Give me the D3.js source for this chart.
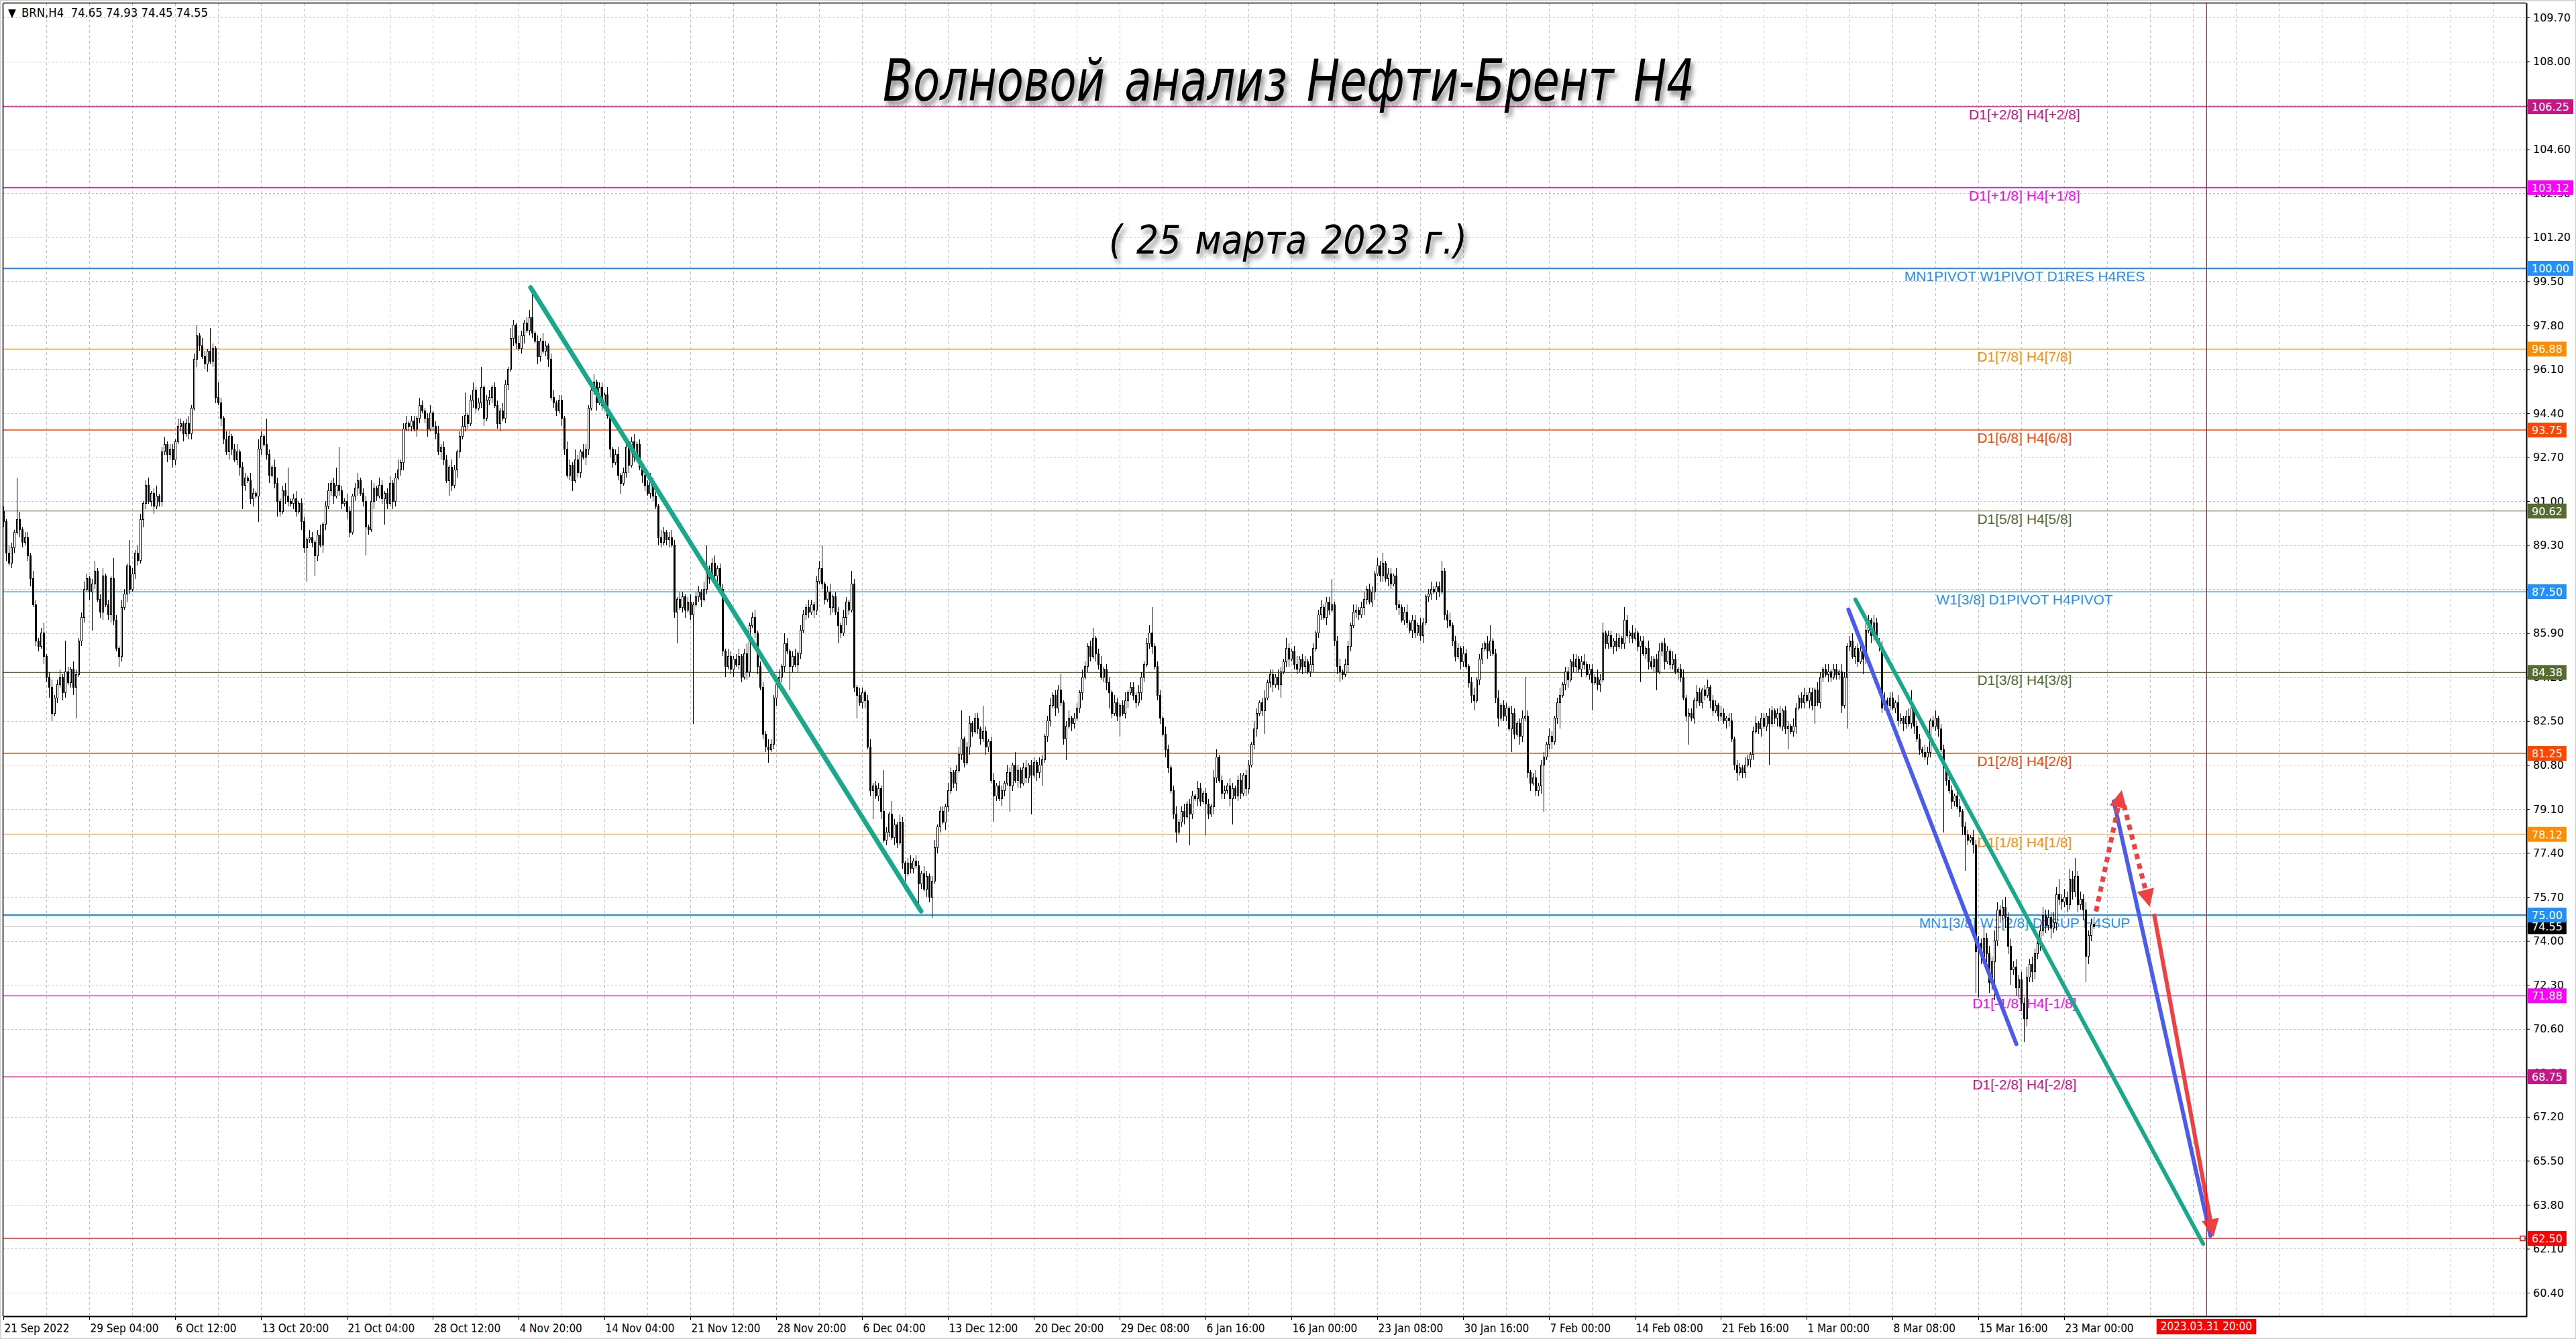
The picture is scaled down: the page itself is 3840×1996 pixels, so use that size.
<!DOCTYPE html>
<html>
<head>
<meta charset="utf-8">
<script src="https://cdn.jsdelivr.net/npm/d3@7"></script>
<style>
  html, body { margin: 0; padding: 0; background: #fff; }
  svg { display: block; }
</style>
</head>
<body>
<div id="chart"></div>
<script>
// ---- data ----
const symbol = "BRN,H4";
const lastOHLC = ["74.65", "74.93", "74.45", "74.55"];
const titleText = "Волновой анализ Нефти-Брент H4";
const subtitleText = "( 25 марта 2023 г.)";

// H4 closes, one per bar (bar 0 = 21 Sep 2022)
const firstOpen = 90.6;
const closes = [
  90.2,89.0,88.6,89.2,89.8,90.3,89.9,89.4,89.6,88.9,88.0,87.0,85.6,85.4,85.9,85.0,84.2,83.8,82.8,83.4,
  83.9,84.2,83.6,84.4,84.0,84.5,83.8,84.3,85.6,86.5,87.6,88.0,87.5,87.8,88.3,87.2,86.7,88.1,87.0,86.6,
  88.0,86.4,85.3,85.0,86.9,87.4,88.5,87.6,88.2,89.0,88.7,90.3,90.9,91.6,91.0,91.3,90.8,91.2,91.0,92.9,
  93.2,92.8,93.0,92.6,93.3,93.9,94.0,93.6,94.0,93.6,94.6,96.5,97.4,97.0,96.6,96.3,96.8,96.4,96.9,95.0,
  94.8,94.2,93.4,92.9,93.5,93.0,92.6,92.9,92.3,91.6,91.9,91.8,91.1,91.3,91.2,93.0,93.5,93.2,92.8,92.0,
  92.3,91.7,91.0,90.6,91.4,91.2,91.0,90.9,91.1,90.6,90.9,90.2,89.2,89.5,89.6,89.4,88.9,89.7,89.3,90.1,
  90.8,91.4,91.7,91.2,91.6,91.4,90.9,91.0,90.6,89.8,91.2,91.5,91.8,91.3,91.0,90.0,89.9,91.0,91.5,91.2,
  91.6,91.1,91.3,90.9,91.7,91.0,91.9,92.2,92.5,93.8,94.0,93.9,94.1,93.8,94.2,94.7,94.5,94.2,93.8,94.4,
  93.9,93.6,92.9,93.1,92.6,91.8,92.3,91.6,92.2,92.9,93.5,93.9,94.3,94.0,94.9,95.3,94.6,94.8,95.4,94.2,
  94.9,95.0,95.4,94.7,94.0,94.5,94.2,95.5,96.1,97.3,97.8,97.1,96.9,97.4,97.9,97.6,98.1,97.5,97.2,96.6,
  97.2,96.8,97.0,96.5,95.0,94.8,94.5,94.9,94.2,93.0,92.0,92.4,91.8,92.6,92.1,92.9,92.7,93.0,94.6,95.3,
  95.6,94.8,95.4,94.7,95.1,94.3,93.0,92.5,92.8,92.0,91.7,92.1,93.1,92.4,93.3,92.7,93.2,92.3,92.0,91.6,
  91.3,91.8,91.2,90.8,89.6,89.4,89.8,89.5,89.6,89.3,86.7,87.2,86.9,87.3,86.8,87.1,86.6,87.0,87.3,87.5,
  87.2,87.6,88.4,88.0,88.6,88.1,88.4,87.6,85.2,84.6,85.0,84.5,84.9,84.7,85.0,84.2,85.1,84.4,86.2,86.5,
  85.9,84.6,83.8,82.0,81.5,81.4,81.6,83.4,83.9,84.2,84.6,85.5,85.2,84.6,85.0,84.7,85.1,86.0,86.6,86.9,
  86.7,87.0,86.8,87.9,88.4,87.8,87.2,87.5,86.9,87.3,86.7,86.2,85.9,86.5,87.1,86.8,87.8,83.8,83.5,83.2,
  83.6,83.3,81.5,79.8,80.0,79.6,79.9,79.0,77.9,78.2,78.9,78.0,78.5,77.8,78.6,77.0,76.6,77.0,76.8,77.1,
  76.9,76.2,76.6,76.0,76.5,75.7,76.3,77.6,78.4,79.0,78.6,79.2,79.8,80.5,80.1,80.6,81.2,81.8,80.9,81.5,
  82.4,82.1,82.6,82.2,81.8,82.1,81.5,81.7,80.2,79.6,80.0,79.5,79.8,80.1,80.5,80.0,80.8,80.2,80.6,80.1,
  80.7,80.3,80.8,80.4,80.9,80.5,80.8,81.0,81.9,82.5,83.1,83.5,83.0,83.7,83.2,81.8,82.3,82.6,82.4,82.6,
  83.0,83.6,84.2,84.6,85.4,85.0,85.7,85.1,84.7,84.2,84.5,84.0,83.6,82.8,83.2,82.7,83.1,82.8,83.3,83.6,
  83.8,83.5,83.2,83.6,84.2,84.7,85.5,85.9,85.4,84.6,83.5,82.6,82.0,81.4,80.7,79.8,78.9,78.2,78.6,79.0,
  78.8,79.3,78.9,79.6,79.5,79.9,79.4,79.7,79.3,78.9,79.2,80.3,81.1,80.2,79.7,79.8,80.0,79.5,79.9,79.6,
  80.2,79.7,80.4,79.9,80.8,81.6,82.2,82.8,83.2,82.9,83.4,84.0,84.3,83.9,84.2,83.9,84.4,84.8,85.3,84.9,
  85.2,84.7,84.5,84.9,84.6,84.8,84.4,84.7,85.3,85.9,86.6,86.9,86.5,87.1,86.8,87.0,85.6,84.6,84.4,84.3,
  84.7,85.4,86.2,86.7,86.8,86.6,86.9,87.2,87.6,87.1,87.5,88.2,88.5,88.1,88.6,88.0,88.2,87.8,88.1,87.0,
  86.9,86.4,86.7,86.3,86.0,86.4,85.9,86.2,85.8,86.3,87.3,87.4,87.6,87.5,87.7,87.5,88.3,86.6,86.4,86.2,
  85.6,85.0,85.3,84.8,85.1,84.6,84.0,83.5,83.3,84.1,84.9,85.3,85.5,85.2,85.6,85.1,83.4,82.6,83.1,82.7,
  83.0,82.2,82.8,82.0,82.4,81.9,82.6,82.7,80.5,80.1,80.3,79.8,80.0,80.8,81.1,81.6,81.9,81.7,82.6,83.2,
  83.5,83.9,84.4,84.1,84.8,84.6,84.9,84.5,84.8,84.7,84.3,84.5,84.0,84.2,83.9,84.1,85.9,85.5,85.8,85.4,
  85.6,85.4,85.7,85.5,86.4,85.8,85.9,85.7,85.9,85.4,85.6,85.1,85.3,84.8,84.6,84.9,84.4,85.2,85.5,84.8,
  85.2,84.7,84.9,84.4,84.5,84.2,83.4,82.7,82.8,82.6,83.3,83.6,83.2,83.7,83.5,83.8,83.3,82.9,83.1,82.7,
  82.8,82.5,82.6,82.5,81.8,80.8,80.5,80.7,80.5,80.8,81.0,81.2,82.1,82.4,82.2,82.6,82.3,82.7,82.4,82.9,
  82.6,82.8,82.3,82.9,82.2,82.3,82.1,82.3,83.0,83.4,83.2,83.5,83.3,83.6,83.1,83.7,83.2,84.2,84.5,84.3,
  84.4,84.2,84.5,84.3,84.4,83.1,84.2,85.4,85.6,85.0,85.3,84.8,85.2,84.9,86.0,86.4,85.8,86.3,85.6,85.4,
  83.0,83.3,83.1,83.4,83.0,83.2,82.5,82.6,82.4,82.7,82.4,83.0,82.3,81.8,81.4,81.3,81.1,81.3,82.5,82.3,
  82.6,82.2,81.4,80.7,80.2,79.8,79.4,79.6,79.2,79.0,78.4,78.1,77.9,78.0,77.7,73.6,73.9,73.4,74.1,73.5,
  72.4,73.2,74.0,75.2,75.0,75.3,74.9,73.8,72.9,73.0,72.2,72.5,71.6,71.0,72.6,73.1,72.8,73.5,73.9,74.4,
  75.0,74.6,74.9,74.5,74.7,75.8,75.6,75.5,75.7,75.4,76.4,75.9,76.5,75.4,75.6,75.2,73.4,74.2,74.65,74.55
];
// wick lengths above the body / below the body, in tenths of a dollar
const wickUp = [
  2,1,3,2,1,16,3,1,2,2,1,3,2,1,2,4,1,2,3,1,
  2,3,1,12,2,1,3,2,1,2,3,2,1,2,4,1,2,3,1,2,
  1,8,2,1,3,2,1,10,2,1,3,2,1,2,3,1,2,4,1,2,
  3,1,2,2,1,3,2,1,2,3,1,2,4,1,3,2,1,9,2,1,
  6,2,1,3,2,1,2,3,1,2,2,1,3,2,1,4,2,1,10,2,
  1,3,2,1,2,3,11,1,2,3,1,2,2,1,3,2,1,2,4,1,
  2,3,1,2,7,15,2,1,3,2,1,2,3,1,2,2,1,8,2,1,
  3,2,1,2,3,1,2,4,1,2,3,1,2,2,1,3,2,1,2,3,
  1,2,3,1,2,2,1,3,2,1,2,4,9,1,2,3,1,2,8,1,
  2,3,1,2,2,1,3,2,1,4,2,1,3,2,1,2,3,9,1,2,
  1,3,2,1,2,3,1,2,2,1,3,2,1,4,2,1,3,2,1,2,
  3,1,2,2,1,3,2,1,2,3,1,2,4,1,2,3,1,2,2,1,
  2,3,1,2,1,3,2,1,2,3,2,1,3,2,1,2,3,1,2,2,
  1,3,9,1,2,3,1,2,2,1,3,2,1,2,3,1,2,4,1,2,
  3,1,2,2,1,3,2,1,2,3,1,4,2,1,2,3,1,2,2,1,
  3,2,1,2,3,9,1,2,3,1,2,2,1,3,2,1,5,2,1,3,
  2,1,2,3,1,2,2,1,16,2,1,5,2,1,3,2,1,2,3,1,
  2,2,1,3,2,1,2,3,1,2,2,1,3,2,1,2,3,11,1,2,
  3,1,2,2,1,10,2,1,2,3,1,2,2,1,3,2,1,5,2,1,
  2,3,1,2,2,1,3,2,1,2,3,1,2,2,6,1,2,3,1,2,
  2,1,3,2,1,2,4,1,2,3,1,2,2,1,3,2,1,2,3,1,
  2,2,1,3,2,1,2,3,10,1,2,2,1,3,2,1,2,3,1,2,
  3,1,2,2,1,3,2,1,2,2,1,3,3,1,2,2,1,3,2,1,
  2,3,1,2,2,1,3,2,1,2,3,1,2,2,1,3,2,1,4,2,
  1,2,3,1,2,2,1,3,2,1,2,3,1,2,2,10,1,2,3,1,
  2,2,1,3,2,1,2,3,1,2,2,1,3,2,4,1,2,2,1,3,
  2,1,2,3,1,2,2,1,3,2,1,2,3,1,2,2,4,1,2,3,
  1,2,2,1,3,2,1,2,3,1,2,2,1,3,6,1,2,3,1,2,
  2,1,3,2,1,2,3,15,2,1,2,3,1,2,2,1,3,2,1,2,
  3,1,2,2,1,3,2,1,2,3,1,2,2,1,3,2,4,1,2,2,
  1,3,2,1,5,2,1,3,2,1,2,2,1,3,2,1,2,3,1,2,
  2,1,3,2,1,2,3,1,2,2,1,3,2,1,2,3,1,2,2,1,
  3,2,1,2,3,1,2,2,1,3,2,1,2,3,1,2,2,1,3,2,
  1,2,3,1,2,2,1,3,2,1,2,3,1,2,2,1,3,2,1,2,
  3,1,2,2,1,3,2,1,2,3,1,2,2,1,3,2,1,3,2,1,
  2,3,1,2,2,1,3,2,1,2,3,7,1,2,2,1,3,2,1,2,
  3,1,2,2,1,3,2,1,2,3,1,2,2,1,3,2,3,2,4,2,
  3,2,4,3,2,3,4,2,3,2,3,2,3,2,4,2,3,2,3,2,
  3,2,3,2,4,3,6,2,3,2,4,3,7,2,3,2,3,2,2,3
];
const wickDn = [
  2,3,1,2,2,1,3,2,1,2,3,1,2,2,1,3,2,4,3,1,
  2,1,3,2,1,2,3,12,1,2,2,1,3,15,2,1,2,3,1,2,
  3,2,1,4,2,1,3,2,1,2,2,1,3,2,1,2,3,1,2,2,
  1,3,2,3,2,1,2,3,1,2,2,1,3,2,1,2,3,1,2,2,
  1,3,2,1,3,2,1,2,3,9,2,1,2,3,1,10,2,1,2,3,
  1,2,6,2,1,3,2,1,2,2,1,3,2,13,1,2,8,2,1,3,
  2,1,2,3,1,2,2,1,3,2,1,2,3,1,2,11,2,1,3,2,
  1,2,10,2,1,3,2,1,2,3,1,2,2,1,3,2,1,2,3,1,
  2,2,1,3,2,1,6,2,1,3,2,1,2,2,1,3,2,1,2,3,
  1,2,2,1,2,3,1,2,2,1,3,2,1,2,3,1,2,2,1,3,
  2,1,2,3,1,2,2,1,3,2,1,2,4,1,2,2,1,3,2,1,
  2,3,1,2,2,1,3,2,1,2,4,1,2,3,1,2,2,1,3,2,
  1,2,2,1,3,2,1,2,3,1,2,12,1,2,3,1,2,42,1,2,
  3,1,2,2,1,3,2,1,2,4,1,2,3,1,2,2,1,3,2,1,
  2,3,1,2,2,5,1,2,3,1,2,2,1,9,2,1,3,2,1,2,
  2,1,3,2,1,2,2,1,3,2,1,7,2,1,3,2,1,2,9,1,
  2,3,1,2,11,1,2,3,1,2,2,1,3,2,1,2,3,1,2,2,
  1,8,2,1,3,2,8,1,2,2,1,3,2,1,2,3,1,2,2,1,
  3,2,1,2,2,1,3,2,1,10,2,1,3,2,1,10,2,1,3,2,
  1,2,2,15,1,3,2,8,1,2,2,1,3,2,1,2,8,1,3,2,
  1,2,3,1,2,2,1,3,2,1,2,3,6,2,1,2,8,1,2,3,
  1,2,2,1,3,2,1,2,3,1,2,2,1,3,2,1,2,4,1,2,
  3,1,12,2,1,3,2,1,12,2,1,3,2,1,2,2,1,3,10,1,
  2,2,1,3,2,1,2,3,1,2,9,1,2,3,1,2,5,1,2,3,
  1,2,2,1,3,2,1,2,3,1,2,2,1,3,2,1,2,3,4,2,
  1,3,2,1,2,2,1,3,2,1,2,3,1,2,2,1,3,2,1,2,
  3,1,2,2,1,3,2,1,2,3,1,2,2,1,3,2,1,2,3,1,
  2,2,1,3,2,1,2,3,4,1,2,2,1,3,2,1,2,3,1,2,
  2,1,9,2,1,3,2,1,2,3,1,2,2,3,18,1,2,3,1,2,
  10,1,2,3,1,2,2,1,3,2,1,2,11,1,2,3,1,2,2,1,
  3,2,1,2,2,1,3,2,1,2,14,1,2,3,1,2,7,1,2,3,
  1,2,2,1,3,2,1,2,11,1,2,3,1,2,2,1,3,2,1,2,
  2,1,3,2,1,2,3,1,2,2,1,3,2,1,2,3,1,2,16,1,
  2,3,1,2,2,8,1,2,3,1,2,2,1,3,2,7,1,2,2,1,
  3,2,1,2,2,3,1,20,2,1,3,2,1,6,2,1,3,2,1,2,
  2,1,3,2,1,2,2,1,3,2,1,2,3,1,2,2,1,3,2,1,
  2,3,1,25,2,1,3,2,1,2,3,14,2,1,3,16,18,3,2,4,
  4,3,15,2,3,2,4,3,6,2,3,4,3,9,3,2,4,3,2,3,
  2,3,2,4,2,3,2,3,2,3,2,3,2,3,2,4,10,3,2,1
];

// time axis labels, one every 32 bars
const timeLabels = ["21 Sep 2022","29 Sep 04:00","6 Oct 12:00","13 Oct 20:00","21 Oct 04:00",
  "28 Oct 12:00","4 Nov 20:00","14 Nov 04:00","21 Nov 12:00","28 Nov 20:00","6 Dec 04:00",
  "13 Dec 12:00","20 Dec 20:00","29 Dec 08:00","6 Jan 16:00","16 Jan 00:00","23 Jan 08:00",
  "30 Jan 16:00","7 Feb 00:00","14 Feb 08:00","21 Feb 16:00","1 Mar 00:00","8 Mar 08:00",
  "15 Mar 16:00","23 Mar 00:00"];
const priceTicks = [60.40,62.10,63.80,65.50,67.20,68.90,70.60,72.30,74.00,75.70,77.40,79.10,80.80,
  82.50,84.20,85.90,87.60,89.30,91.00,92.70,94.40,96.10,97.80,99.50,101.20,102.90,104.60,106.30,108.00,109.70];

// Murrey-style levels
const levelPrices = [106.25,103.12,100.00,96.88,93.75,90.62,87.50,84.38,81.25,78.12,75.00,71.88,68.75,62.50];
const levelNames = ["D1[+2/8] H4[+2/8]","D1[+1/8] H4[+1/8]","MN1PIVOT W1PIVOT D1RES H4RES",
  "D1[7/8] H4[7/8]","D1[6/8] H4[6/8]","D1[5/8] H4[5/8]","W1[3/8] D1PIVOT H4PIVOT",
  "D1[3/8] H4[3/8]","D1[2/8] H4[2/8]","D1[1/8] H4[1/8]","MN1[3/8] W1[2/8] D1SUP H4SUP",
  "D1[-1/8] H4[-1/8]","D1[-2/8] H4[-2/8]",""];
const bidPrice = 74.55;

// vertical marker line
const markerBar = 821;
const markerLabel = "2023.03.31 20:00";

// drawn trend lines and arrows: [bar, price]
const greenLine1 = [[196.5, 99.26], [342.0, 75.15]];
const greenLine2 = [[690.2, 87.20], [819.8, 62.29]];
const blueLine1 = [[687.6, 86.81], [750.2, 70.01]];
const blueLine2 = [[786.5, 79.40], [822.5, 62.60]];
const redDottedUp = [[779.9, 75.14], [789.2, 79.70]];
const redDottedDown = [[790.3, 79.25], [799.6, 75.45]];
const redSolid = [[801.5, 75.05], [823.4, 62.70]];

// ---- styles ----
const levelColor = {
  "106.25":"#c71585","103.12":"#ff00ff","100":"#1e90ff","96.88":"#ff8c00","93.75":"#ff4500",
  "90.62":"#556b2f","87.5":"#1e90ff","84.38":"#556b2f","81.25":"#ff4500","78.12":"#ff8c00",
  "75":"#1e90ff","71.88":"#ff00ff","68.75":"#c71585","62.5":"#ff0000"
};
const levelWidth = { "100":2.2, "75":2.2, "93.75":1.4, "81.25":1.6, "106.25":1.5, "103.12":1.5 };

const W = 3840, H = 1996;
const plot = { left: 5, top: 5, right: 3766, bottom: 1962 };

const x = d3.scaleLinear().domain([-1, 940.25]).range([1, 3766]);
const y = d3.scaleLinear().domain([59.493, 110.245]).range([1962, 5]);

const svg = d3.select('#chart').append('svg')
  .attr('width', W).attr('height', H)
  .style('font-family', "'DejaVu Sans', sans-serif");

svg.append('rect').attr('width', W).attr('height', H).attr('fill', '#fff');

const defs = svg.append('defs');
defs.append('clipPath').attr('id', 'plotClip').append('rect')
  .attr('x', plot.left).attr('y', plot.top)
  .attr('width', plot.right - plot.left).attr('height', plot.bottom - plot.top);

const shadow = defs.append('filter').attr('id', 'shadow')
  .attr('x', '-5%').attr('y', '-20%').attr('width', '110%').attr('height', '160%');
shadow.append('feDropShadow').attr('dx', 4).attr('dy', 7).attr('stdDeviation', 3.5)
  .attr('flood-color', '#000').attr('flood-opacity', 0.45);

defs.append('marker').attr('id', 'arrowRed')
  .attr('viewBox', '0 0 10 10').attr('refX', 8).attr('refY', 5)
  .attr('markerUnits', 'userSpaceOnUse').attr('markerWidth', 30).attr('markerHeight', 26)
  .attr('orient', 'auto')
  .append('path').attr('d', 'M0,0 L10,5 L0,10 z').attr('fill', '#f04040');

// ---- grid ----
const grid = svg.append('g').attr('clip-path', 'url(#plotClip)');
grid.selectAll('line.hg').data(priceTicks).join('line').attr('class', 'hg')
  .attr('x1', plot.left).attr('x2', plot.right)
  .attr('y1', d => Math.round(y(d)) + 0.5).attr('y2', d => Math.round(y(d)) + 0.5)
  .attr('stroke', '#c0c0c0').attr('stroke-width', 1).attr('stroke-dasharray', '3,3');
grid.selectAll('line.vg').data(d3.range(16, 941, 16)).join('line').attr('class', 'vg')
  .attr('x1', d => Math.round(x(d)) + 0.5).attr('x2', d => Math.round(x(d)) + 0.5)
  .attr('y1', plot.top).attr('y2', plot.bottom)
  .attr('stroke', '#c0c0c0').attr('stroke-width', 1).attr('stroke-dasharray', '4,4');

// ---- levels ----
const lv = svg.append('g').attr('clip-path', 'url(#plotClip)');
const key = p => String(+p);
lv.selectAll('line.lvl').data(levelPrices).join('line').attr('class', 'lvl')
  .attr('x1', plot.left).attr('x2', plot.right)
  .attr('y1', d => y(d)).attr('y2', d => y(d))
  .attr('stroke', d => levelColor[key(d)])
  .attr('stroke-width', d => levelWidth[key(d)] || 1.2);
// bid line
lv.append('line').attr('x1', plot.left).attr('x2', plot.right)
  .attr('y1', y(bidPrice)).attr('y2', y(bidPrice))
  .attr('stroke', '#c0c0c0').attr('stroke-width', 1);
lv.selectAll('text.lvl').data(levelPrices.map((p, i) => ({ p, name: levelNames[i] })).filter(d => d.name))
  .join('text').attr('class', 'lvl')
  .attr('x', 3018).attr('y', d => y(d.p) + 19)
  .attr('text-anchor', 'middle')
  .style('font-family', "'Liberation Sans', Arial, sans-serif").style('font-size', '21px')
  .attr('fill', d => levelColor[key(d.p)])
  .text(d => d.name);

// ---- candles ----
const bars = closes.map((c, i) => {
  const o = i === 0 ? firstOpen : closes[i - 1];
  return {
    i, o, c,
    h: Math.max(o, c) + (wickUp[i] || 0) / 10,
    l: Math.min(o, c) - (wickDn[i] || 0) / 10
  };
});
// last bar exact from header
bars[bars.length - 1].h = +lastOHLC[1];
bars[bars.length - 1].l = +lastOHLC[2];

const cg = svg.append('g').attr('clip-path', 'url(#plotClip)').attr('shape-rendering', 'crispEdges');
cg.selectAll('line.wick').data(bars).join('line').attr('class', 'wick')
  .attr('x1', d => Math.round(x(d.i)) + 0.5).attr('x2', d => Math.round(x(d.i)) + 0.5)
  .attr('y1', d => y(d.h)).attr('y2', d => y(d.l))
  .attr('stroke', '#000').attr('stroke-width', 1);
cg.selectAll('rect.body').data(bars).join('rect').attr('class', 'body')
  .attr('x', d => Math.round(x(d.i)) - 0.5)
  .attr('width', 2)
  .attr('y', d => y(Math.max(d.o, d.c)))
  .attr('height', d => Math.max(0.01, Math.abs(y(d.o) - y(d.c))))
  .attr('fill', d => d.c < d.o ? '#000' : '#fff')
  .attr('stroke', '#000').attr('stroke-width', 1);

// ---- trend lines / arrows ----
const line = d3.line().x(d => x(d[0])).y(d => y(d[1]));
const tg = svg.append('g').attr('clip-path', 'url(#plotClip)');
tg.append('path').attr('d', line(greenLine1)).attr('stroke', '#17a98a').attr('stroke-width', 7)
  .attr('fill', 'none').attr('stroke-linecap', 'round');
tg.append('path').attr('d', line(greenLine2)).attr('stroke', '#17a98a').attr('stroke-width', 6)
  .attr('fill', 'none').attr('stroke-linecap', 'round');
tg.append('path').attr('d', line(blueLine1)).attr('stroke', '#4a5cf0').attr('stroke-width', 6)
  .attr('fill', 'none').attr('stroke-linecap', 'round');
tg.append('path').attr('d', line(blueLine2)).attr('stroke', '#4a5cf0').attr('stroke-width', 6)
  .attr('fill', 'none').attr('stroke-linecap', 'round');
tg.append('path').attr('d', line(redDottedUp)).attr('stroke', '#f04040').attr('stroke-width', 7)
  .attr('stroke-dasharray', '8,7').attr('fill', 'none').attr('marker-end', 'url(#arrowRed)');
tg.append('path').attr('d', line(redDottedDown)).attr('stroke', '#f04040').attr('stroke-width', 7)
  .attr('stroke-dasharray', '8,7').attr('fill', 'none').attr('marker-end', 'url(#arrowRed)');
tg.append('path').attr('d', line(redSolid)).attr('stroke', '#f04040').attr('stroke-width', 6)
  .attr('fill', 'none').attr('marker-end', 'url(#arrowRed)');

// vertical marker
svg.append('line')
  .attr('x1', Math.round(x(markerBar)) + 0.5).attr('x2', Math.round(x(markerBar)) + 0.5)
  .attr('y1', plot.top).attr('y2', plot.bottom)
  .attr('stroke', '#ff0000').attr('stroke-width', 1);
// small square on the 62.50 line end
svg.append('rect').attr('x', plot.right - 9).attr('y', y(62.5) - 3.5).attr('width', 7).attr('height', 7)
  .attr('fill', '#fff').attr('stroke', '#ff0000').attr('stroke-width', 1.5);

// ---- title: natural text, squeezed horizontally with a transform ----
const titleFont = "'Liberation Sans Narrow', 'DejaVu Sans Condensed', sans-serif";
function squeezedText(txt, cx, baseline, size, width, gap) {
  const g = svg.append('g').attr('filter', 'url(#shadow)');
  const t = g.append('text').attr('x', 0).attr('y', 0).attr('text-anchor', 'middle')
    .style('font-family', titleFont).style('font-style', 'italic').style('font-size', size + 'px')
    .style('word-spacing', gap + 'px')
    .attr('fill', '#000').text(txt);
  const k = width / t.node().getComputedTextLength();
  t.attr('transform', `translate(${cx},${baseline}) scale(${k},1)`);
}
squeezedText(titleText, 1921, 150, 86, 1210, 10);
squeezedText(subtitleText, 1920, 378, 58, 534, 4);

// ---- header ----
svg.append('text').attr('x', 12).attr('y', 25)
  .style('font-family', "'DejaVu Sans Condensed', sans-serif").style('font-size', '17px')
  .text('▼');
svg.append('text').attr('x', 32).attr('y', 25)
  .style('font-family', "'DejaVu Sans Condensed', sans-serif").style('font-size', '18px')
  .attr('textLength', 278).attr('lengthAdjust', 'spacingAndGlyphs')
  .attr('xml:space', 'preserve')
  .text(symbol + '  ' + lastOHLC.join(' '));

// ---- axes ----
const yAxis = svg.append('g').attr('transform', `translate(${plot.right},0)`)
  .call(d3.axisRight(y).tickValues(priceTicks).tickFormat(d3.format('.2f')).tickSize(5).tickPadding(5));
yAxis.select('.domain').remove();
yAxis.selectAll('text').style('font-family', "'DejaVu Sans', sans-serif").style('font-size', '16px').attr('fill', '#000');

const xAxis = svg.append('g').attr('transform', `translate(0,${plot.bottom})`)
  .call(d3.axisBottom(x).tickValues(timeLabels.map((_, k) => k * 32))
    .tickFormat((d, k) => timeLabels[k]).tickSize(6).tickPadding(6));
xAxis.select('.domain').remove();
xAxis.selectAll('text').attr('text-anchor', 'start').attr('dx', 1)
  .style('font-family', "'DejaVu Sans Condensed', sans-serif").style('font-size', '17px').attr('fill', '#000');

// frame
svg.append('line').attr('x1', plot.right + 0.5).attr('x2', plot.right + 0.5)
  .attr('y1', plot.top).attr('y2', plot.bottom + 1).attr('stroke', '#000').attr('stroke-width', 2);
svg.append('line').attr('x1', plot.left).attr('x2', plot.right + 1)
  .attr('y1', plot.bottom + 0.5).attr('y2', plot.bottom + 0.5).attr('stroke', '#000').attr('stroke-width', 2);
svg.append('line').attr('x1', plot.left - 0.5).attr('x2', plot.left - 0.5)
  .attr('y1', plot.top).attr('y2', plot.bottom).attr('stroke', '#000').attr('stroke-width', 1.5);
svg.append('line').attr('x1', plot.left).attr('x2', plot.right)
  .attr('y1', plot.top - 0.5).attr('y2', plot.top - 0.5).attr('stroke', '#000').attr('stroke-width', 1.5);
svg.append('rect').attr('x', 0.5).attr('y', 0.5).attr('width', W - 1).attr('height', H - 1)
  .attr('fill', 'none').attr('stroke', '#d0d0d0').attr('stroke-width', 2);

// ---- price boxes on the axis ----
const boxes = svg.append('g');
const boxData = [{ p: bidPrice, color: '#000' }]
  .concat(levelPrices.map(p => ({ p, color: levelColor[key(p)] })));
boxData.forEach(d => {
  const g = boxes.append('g');
  const t = g.append('text').attr('x', plot.right + 8).attr('y', y(d.p)).attr('dy', '0.36em')
    .style('font-family', "'DejaVu Sans', sans-serif").style('font-size', '16px')
    .attr('fill', '#fff').text(d3.format('.2f')(d.p));
  const w = t.node().getComputedTextLength();
  g.insert('rect', 'text').attr('x', plot.right + 2).attr('y', y(d.p) - 11)
    .attr('width', w + 12).attr('height', 22).attr('fill', d.color);
});

// marker label on the time axis
const mg = svg.append('g');
const mt = mg.append('text').attr('x', x(markerBar)).attr('y', plot.bottom + 21)
  .attr('text-anchor', 'middle')
  .style('font-family', "'DejaVu Sans Condensed', sans-serif").style('font-size', '17px')
  .attr('fill', '#fff').text(markerLabel);
const mw = mt.node().getComputedTextLength();
mg.insert('rect', 'text').attr('x', x(markerBar) - mw / 2 - 6).attr('y', plot.bottom + 4)
  .attr('width', mw + 12).attr('height', 23).attr('fill', '#ff0000');
</script>
</body>
</html>
